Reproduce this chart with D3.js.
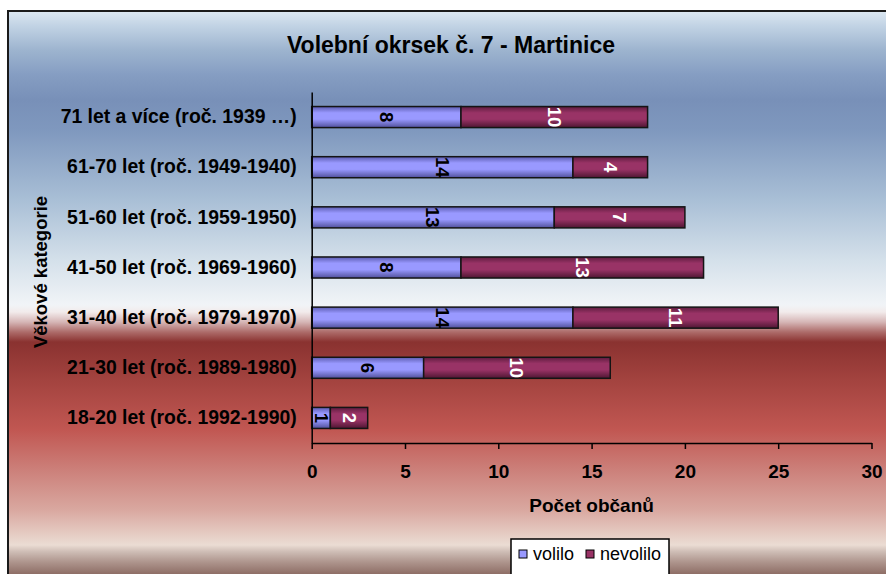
<!DOCTYPE html>
<html>
<head>
<meta charset="utf-8">
<script src="https://cdn.jsdelivr.net/npm/d3@7"></script>
<style>
  html, body { margin: 0; padding: 0; background: #ffffff; }
  svg { display: block; }
  text { font-family: "Liberation Sans", Arial, sans-serif; }
</style>
</head>
<body>
<svg id="chart" width="886" height="574"></svg>
<script>
const categories = [
  "71 let a více (roč. 1939 \u2026)",
  "61-70 let (roč. 1949-1940)",
  "51-60 let (roč. 1959-1950)",
  "41-50 let (roč. 1969-1960)",
  "31-40 let (roč. 1979-1970)",
  "21-30 let (roč. 1989-1980)",
  "18-20 let (roč. 1992-1990)"
];
const volilo = [8, 14, 13, 8, 14, 6, 1];
const nevolilo = [10, 4, 7, 13, 11, 10, 2];
const seriesNames = ["volilo", "nevolilo"];
const xTicks = [0, 5, 10, 15, 20, 25, 30];
const titleText = "Volební okrsek č. 7 - Martinice";
const xTitle = "Počet občanů";
const yTitle = "Věkové kategorie";

const svg = d3.select("#chart");
const defs = svg.append("defs");

// background gradient
const bgStops = [
  [11, "#dce7f1"], [25, "#c3d4e5"], [50, "#9db4cf"], [75, "#859dc2"],
  [100, "#7890b8"], [130, "#7f98be"], [200, "#a9bfd6"], [260, "#d4e0ea"],
  [305, "#f1f4f7"], [312, "#f2ebeb"], [322, "#d6b6b6"], [332, "#ad6c6a"],
  [342, "#8a3230"], [380, "#a3433f"], [430, "#c15752"], [470, "#cc807a"],
  [510, "#d9a8a0"], [545, "#ebdcd3"], [552, "#cdbcb4"], [562, "#ae958d"],
  [574, "#8e6e66"]
];
const bg = defs.append("linearGradient").attr("id", "bgGrad")
  .attr("gradientUnits", "userSpaceOnUse")
  .attr("x1", 0).attr("y1", 11).attr("x2", 0).attr("y2", 574);
bgStops.forEach(s => bg.append("stop").attr("offset", (s[0] - 11) / 563).attr("stop-color", s[1]));

function barGrad(id, dark, base, darker) {
  const g = defs.append("linearGradient").attr("id", id)
    .attr("x1", 0).attr("y1", 0).attr("x2", 0).attr("y2", 1);
  g.append("stop").attr("offset", 0).attr("stop-color", dark);
  g.append("stop").attr("offset", 0.3).attr("stop-color", base);
  g.append("stop").attr("offset", 0.6).attr("stop-color", base);
  g.append("stop").attr("offset", 1).attr("stop-color", darker);
}
barGrad("gBlue", "#5c5cb0", "#9999ff", "#50509a");
barGrad("gRed", "#5e1c3e", "#993366", "#4e1632");

// frame
svg.append("rect").attr("x", 8).attr("y", 11).attr("width", 900).attr("height", 600)
  .attr("fill", "url(#bgGrad)").attr("stroke", "#1a1a1a").attr("stroke-width", 2);

const x = d3.scaleLinear().domain([0, 30]).range([311.7, 871.5]);
const y = d3.scaleBand().domain(categories).range([92, 443])
  .paddingInner(0.58).paddingOuter(0.29);

// stacked data
const rows = categories.map((c, i) => ({ cat: c, volilo: volilo[i], nevolilo: nevolilo[i] }));
const stack = d3.stack().keys(seriesNames)(rows);
const fills = { volilo: "url(#gBlue)", nevolilo: "url(#gRed)" };
const labelColors = { volilo: "#000000", nevolilo: "#ffffff" };

const layers = svg.append("g").selectAll("g").data(stack).join("g");
layers.selectAll("rect").data(d => d.map(v => ({ key: d.key, v }))).join("rect")
  .attr("x", d => x(d.v[0]))
  .attr("y", d => y(d.v.data.cat))
  .attr("width", d => x(d.v[1]) - x(d.v[0]))
  .attr("height", y.bandwidth())
  .attr("fill", d => fills[d.key])
  .attr("stroke", "#141414").attr("stroke-width", 1.5);

layers.selectAll("text").data(d => d.map(v => ({ key: d.key, v }))).join("text")
  .attr("transform", d => `translate(${(x(d.v[0]) + x(d.v[1])) / 2},${y(d.v.data.cat) + y.bandwidth() / 2}) rotate(90)`)
  .attr("text-anchor", "middle")
  .attr("dominant-baseline", "central")
  .attr("font-size", 18.5).attr("font-weight", "bold")
  .attr("fill", d => labelColors[d.key])
  .text(d => d.v[1] - d.v[0]);

// x axis
const xAxis = svg.append("g").attr("transform", "translate(0,443)")
  .call(d3.axisBottom(x).tickValues(xTicks).tickSize(6).tickSizeOuter(0).tickPadding(16));
xAxis.selectAll("path, line").attr("stroke", "#000").attr("stroke-width", 1.5);
xAxis.selectAll("text").attr("font-size", 19).attr("font-weight", "bold").attr("fill", "#000")
  .attr("font-family", "'Liberation Sans', Arial, sans-serif");

// y axis
const yAxis = svg.append("g").attr("transform", "translate(311.7,0)")
  .call(d3.axisLeft(y).tickSize(0).tickSizeOuter(0).tickPadding(15));
yAxis.selectAll("path").attr("stroke", "#000").attr("stroke-width", 1.5);
yAxis.selectAll("text").attr("font-size", 19.4).attr("font-weight", "bold").attr("fill", "#000")
  .attr("font-family", "'Liberation Sans', Arial, sans-serif");

// titles
svg.append("text").attr("x", 451).attr("y", 45).attr("text-anchor", "middle")
  .attr("dominant-baseline", "central").attr("font-size", 23).attr("font-weight", "bold")
  .text(titleText);
svg.append("text").attr("x", 591.6).attr("y", 505).attr("text-anchor", "middle")
  .attr("dominant-baseline", "central").attr("font-size", 19).attr("font-weight", "bold")
  .text(xTitle);
svg.append("text").attr("transform", "translate(40,272) rotate(-90)").attr("text-anchor", "middle")
  .attr("dominant-baseline", "central").attr("font-size", 18.5).attr("font-weight", "bold")
  .text(yTitle);

// legend
const lg = svg.append("g");
lg.append("rect").attr("x", 511).attr("y", 539).attr("width", 158).attr("height", 45)
  .attr("fill", "#ffffff").attr("stroke", "#000").attr("stroke-width", 1.5);
const legendX = [519, 586];
const legendFill = ["#9999ff", "#993366"];
seriesNames.forEach((s, i) => {
  lg.append("rect").attr("x", legendX[i]).attr("y", 550).attr("width", 8).attr("height", 8)
    .attr("fill", legendFill[i]).attr("stroke", "#000").attr("stroke-width", 1);
  lg.append("text").attr("x", legendX[i] + 14).attr("y", 554).attr("dominant-baseline", "central")
    .attr("font-size", 18).text(s);
});
</script>
</body>
</html>
